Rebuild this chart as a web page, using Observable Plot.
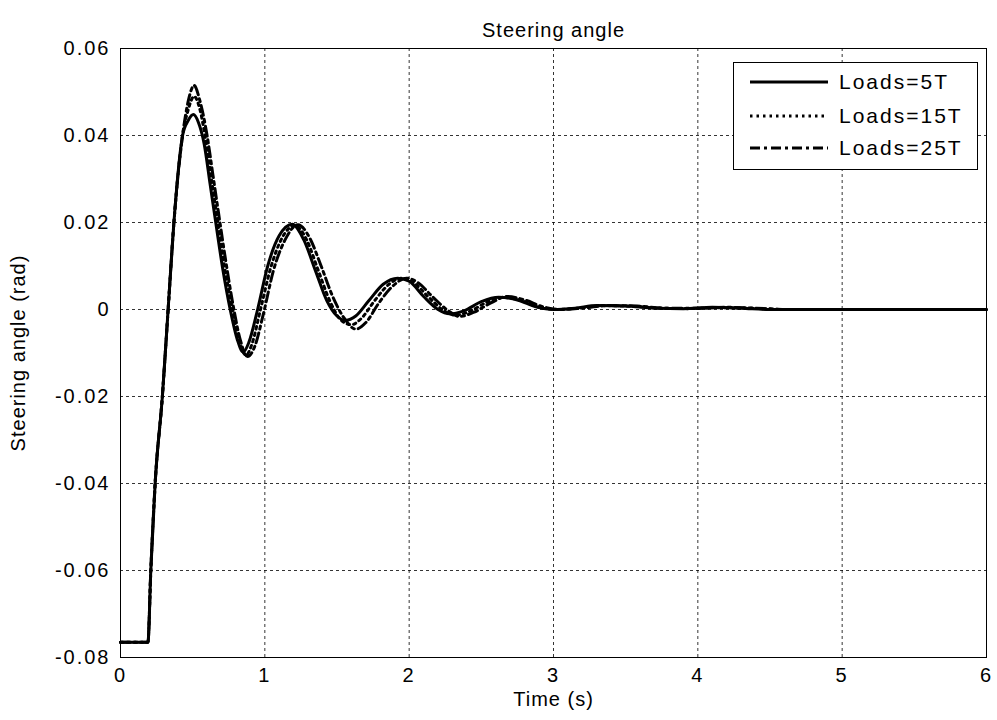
<!DOCTYPE html>
<html>
<head>
<meta charset="utf-8">
<script src="https://cdn.jsdelivr.net/npm/d3@7"></script>
<script src="https://cdn.jsdelivr.net/npm/@observablehq/plot@0.6"></script>
<style>
  html, body { margin: 0; padding: 0; background: #fff; }
  #wrap { position: relative; width: 997px; height: 720px; }
  #legend { position: absolute; left: 733px; top: 62px; }
  text { font-family: "Liberation Sans", Arial, sans-serif; }
</style>
</head>
<body>
<div id="wrap"></div>
<script>
// Steering angle response (rad) versus time (s) for three loads
const t5 = [0, 0.19, 0.21, 0.24, 0.29, 0.33, 0.37, 0.43, 0.47, 0.505, 0.54, 0.58, 0.62, 0.66, 0.71, 0.76, 0.81, 0.85, 0.89, 0.95, 1.02, 1.1, 1.19, 1.27, 1.35, 1.43, 1.5, 1.56, 1.63, 1.72, 1.82, 1.92, 2.0, 2.1, 2.2, 2.28, 2.38, 2.5, 2.62, 2.75, 2.88, 3.0, 3.15, 3.3, 3.5, 3.7, 3.9, 4.1, 4.3, 4.5, 5.0, 6.0];
const load5 = [-0.0765, -0.0765, -0.06, -0.04, -0.02, 0, 0.02, 0.04, 0.0435, 0.0448, 0.043, 0.038, 0.029, 0.02, 0.009, 0, -0.007, -0.0098, -0.0075, 0, 0.01, 0.017, 0.0196, 0.016, 0.009, 0.002, -0.0015, -0.0025, -0.0015, 0.002, 0.0058, 0.0072, 0.0065, 0.003, 0, -0.001, -0.0003, 0.0018, 0.0028, 0.0022, 0.0006, 0, 0.0003, 0.0009, 0.0008, 0.0003, 0.0002, 0.0005, 0.0003, 0, 0, 0];

const t15 = [0, 0.19, 0.21, 0.24, 0.29, 0.33, 0.37, 0.43, 0.47, 0.51, 0.55, 0.59, 0.63, 0.67, 0.72, 0.77, 0.82, 0.87, 0.91, 0.97, 1.04, 1.12, 1.21, 1.29, 1.37, 1.45, 1.53, 1.6, 1.67, 1.76, 1.86, 1.95, 2.03, 2.13, 2.23, 2.32, 2.42, 2.54, 2.65, 2.78, 2.9, 3.02, 3.2, 3.35, 3.55, 3.75, 3.95, 4.15, 4.35, 4.6, 5.0, 6.0];
const load15 = [-0.0765, -0.0765, -0.06, -0.04, -0.02, 0, 0.02, 0.04, 0.046, 0.049, 0.046, 0.039, 0.03, 0.021, 0.01, 0.001, -0.007, -0.0105, -0.008, 0, 0.0095, 0.0165, 0.0193, 0.016, 0.009, 0.002, -0.0025, -0.0035, -0.002, 0.002, 0.0058, 0.0072, 0.0062, 0.003, 0, -0.0013, -0.0004, 0.0017, 0.0028, 0.002, 0.0005, 0, 0.0004, 0.0009, 0.0007, 0.0003, 0.0002, 0.0004, 0.0003, 0, 0, 0];

const t25 = [0, 0.19, 0.21, 0.24, 0.29, 0.33, 0.37, 0.43, 0.47, 0.51, 0.55, 0.6, 0.64, 0.68, 0.73, 0.78, 0.83, 0.88, 0.93, 0.99, 1.06, 1.14, 1.23, 1.31, 1.39, 1.47, 1.55, 1.63, 1.7, 1.79, 1.89, 1.98, 2.06, 2.16, 2.26, 2.35, 2.45, 2.57, 2.68, 2.8, 2.93, 3.05, 3.22, 3.38, 3.58, 3.78, 4.0, 4.2, 4.4, 4.65, 5.0, 6.0];
const load25 = [-0.0765, -0.0765, -0.06, -0.04, -0.02, 0, 0.02, 0.04, 0.048, 0.0515, 0.048, 0.04, 0.031, 0.022, 0.011, 0.001, -0.007, -0.0108, -0.0085, -0.001, 0.009, 0.016, 0.0195, 0.0165, 0.01, 0.003, -0.002, -0.0045, -0.003, 0.0015, 0.0055, 0.0072, 0.0062, 0.003, 0, -0.0016, -0.0006, 0.0016, 0.003, 0.0022, 0.0006, 0, 0.0004, 0.0009, 0.0008, 0.0003, 0.0003, 0.0005, 0.0003, 0, 0, 0];

const seriesNames = ["Loads=5T", "Loads=15T", "Loads=25T"];
const xTicks = [0, 1, 2, 3, 4, 5, 6];
const yTicks = [-0.08, -0.06, -0.04, -0.02, 0, 0.02, 0.04, 0.06];

const dashes = { "Loads=5T": null, "Loads=15T": "2.5,4", "Loads=25T": "10,4,3,4" };

const rows = (ts, vs) => ts.map((t, i) => ({ t, v: vs[i] }));
const s5 = rows(t5, load5), s15 = rows(t15, load15), s25 = rows(t25, load25);

const font = "'Liberation Sans', Arial, sans-serif";

const line = (data, name) => Plot.line(data, {
  x: "t", y: "v", curve: "monotone-x",
  stroke: "#000", strokeWidth: 3,
  strokeDasharray: dashes[name]
});

const chart = Plot.plot({
  width: 997, height: 720,
  marginLeft: 120, marginRight: 11, marginTop: 48, marginBottom: 63,
  style: { fontFamily: font, fontSize: "20px", color: "#000", background: "#fff" },
  x: { domain: [0, 6], ticks: xTicks },
  y: { domain: [-0.08, 0.06], ticks: yTicks },
  marks: [
    Plot.gridX(xTicks, { stroke: "#000", strokeOpacity: 1, strokeWidth: 0.8, strokeDasharray: "3,3" }),
    Plot.gridY(yTicks, { stroke: "#000", strokeOpacity: 1, strokeWidth: 0.8, strokeDasharray: "3,3" }),
    Plot.frame({ stroke: "#000", strokeWidth: 1 }),
    Plot.axisX(xTicks, { tickSize: 0, tickPadding: 10, label: null, fontSize: 20,
      tickFormat: d => String(d) }),
    Plot.axisY(yTicks, { tickSize: 0, tickPadding: 10, label: null, fontSize: 20,
      tickFormat: d => d === 0 ? "0" : d.toFixed(2) }),
    line(s25, "Loads=25T"),
    line(s15, "Loads=15T"),
    line(s5, "Loads=5T"),
    Plot.text(["Steering angle"], { frameAnchor: "top", dy: -26, fontSize: 20, fill: "#000" }),
    Plot.text(["Time (s)"], { frameAnchor: "bottom", dy: 48, fontSize: 20, fill: "#000" }),
    Plot.text(["Steering angle (rad)"], { frameAnchor: "left", textAnchor: "middle", dx: -102, rotate: -90, fontSize: 20, fill: "#000" })
  ]
});
// widen the tick label spacing a little
d3.select(chart).selectAll("g[aria-label='y-axis tick label'] text, g[aria-label='x-axis tick label'] text")
  .style("letter-spacing", "2px");
d3.select(chart).selectAll("g[aria-label='text'] text").style("letter-spacing", "1px");

const wrap = document.getElementById("wrap");
wrap.appendChild(chart);

// Legend box drawn over the upper right of the plot area
const lw = 245, lh = 108;
const legend = d3.create("svg").attr("id", "legend").attr("width", lw).attr("height", lh);
legend.append("rect").attr("x", 0.5).attr("y", 0.5).attr("width", lw - 1).attr("height", lh - 1)
  .attr("fill", "#fff").attr("stroke", "#000").attr("stroke-width", 1);
const rowY = [20, 54, 86];
seriesNames.forEach((name, i) => {
  legend.append("line").attr("x1", 17).attr("x2", 95).attr("y1", rowY[i]).attr("y2", rowY[i])
    .attr("stroke", "#000").attr("stroke-width", 3)
    .attr("stroke-dasharray", dashes[name]);
  legend.append("text").attr("x", 106).attr("y", rowY[i]).attr("dy", "0.35em")
    .attr("font-size", 21).attr("letter-spacing", "2px").attr("fill", "#000")
    .style("font-family", font).text(name);
});
wrap.appendChild(legend.node());
</script>
</body>
</html>
